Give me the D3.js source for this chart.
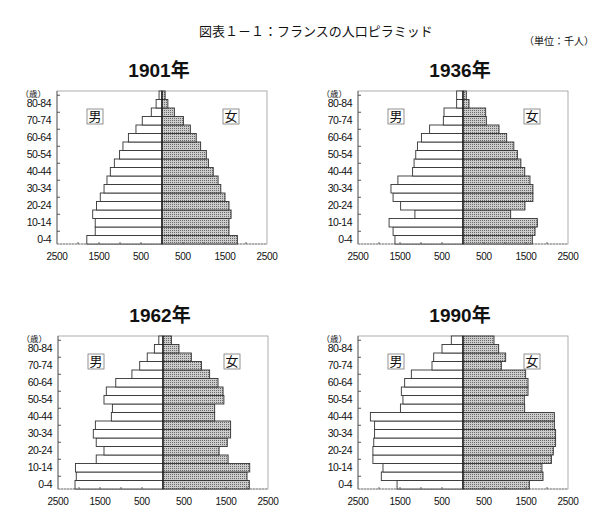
<!DOCTYPE html>
<html><head><meta charset="utf-8">
<script src="https://cdn.jsdelivr.net/npm/d3@7"></script>
<style>
html,body{margin:0;padding:0;background:#fff;}
svg{display:block;}
</style></head>
<body>
<svg id="c" width="600" height="517"></svg>
<script>
// ---- data (thousands of people) ----
const ageGroups = ["0-4","5-9","10-14","15-19","20-24","25-29","30-34","35-39","40-44","45-49","50-54","55-59","60-64","65-69","70-74","75-79","80-84","85+"];
const ageLabels = ["0-4","10-14","20-24","30-34","40-44","50-54","60-64","70-74","80-84"];
const years = [1901, 1936, 1962, 1990];
const male1901   = [1790,1590,1590,1650,1560,1470,1380,1310,1230,1135,1010,930,800,620,470,255,140,70];
const female1901 = [1795,1595,1595,1645,1595,1500,1400,1335,1220,1105,1055,920,815,675,510,295,140,75];
const male1936   = [1620,1665,1760,1145,1485,1665,1715,1550,1200,1165,1125,1085,990,795,468,452,151,151];
const female1936 = [1650,1715,1770,1135,1475,1665,1665,1595,1470,1378,1295,1210,1040,857,556,540,143,79];
const male1962   = [2095,2065,2085,1590,1405,1590,1660,1610,1230,1205,1405,1350,1125,740,555,375,205,100];
const female1962 = [2055,2000,2065,1550,1335,1530,1610,1610,1230,1230,1450,1430,1310,1110,915,675,380,200];
const male1990   = [1570,1945,1905,2145,2145,2125,2105,2105,2205,1490,1430,1468,1389,1230,738,698,500,278];
const female1990 = [1580,1905,1880,2105,2150,2205,2205,2175,2175,1468,1460,1548,1548,1492,913,1016,849,738];
const xTickLabels = [-2500,-1500,-500,500,1500,2500];
const xMinorTicks = [-2000,-1500,-1000,-500,500,1000,1500,2000];
const mainTitle = "図表１－１：フランスの人口ピラミッド";
const unitLabel = "（単位：千人）";
const ageUnit = "（歳）";
const maleLabel = "男", femaleLabel = "女";

const seriesByYear = {
  1901: [male1901, female1901],
  1936: [male1936, female1936],
  1962: [male1962, female1962],
  1990: [male1990, female1990]
};

// ---- layout ----
const panels = [
  {year:1901, left:57,  top:91},
  {year:1936, left:358, top:91},
  {year:1962, left:58,  top:336},
  {year:1990, left:358, top:336}
];
const PW = 210, PH = 153;
const numFont = "'Liberation Sans', Arial, sans-serif";
const jpFont = "'Noto Sans CJK JP', sans-serif";

const svg = d3.select("#c");
const defs = svg.append("defs");
const pat = defs.append("pattern").attr("id","dots").attr("patternUnits","userSpaceOnUse")
  .attr("width",2).attr("height",2);
pat.append("rect").attr("width",2).attr("height",2).attr("fill","#cccccc");
pat.append("rect").attr("width",1).attr("height",1).attr("fill","#6a6a6a");

svg.append("text").attr("x",199).attr("y",36).attr("font-family",jpFont)
  .attr("font-size",13).attr("fill","#111").text(mainTitle);
svg.append("text").attr("x",594).attr("y",45).attr("text-anchor","end").attr("font-family",jpFont)
  .attr("font-size",10).attr("fill","#111").text(unitLabel);

panels.forEach(p => {
  const [male, female] = seriesByYear[p.year];
  const g = svg.append("g");
  const x = d3.scaleLinear().domain([-2500,2500]).range([p.left, p.left+PW]);
  const y = d3.scaleBand().domain(ageGroups.slice().reverse()).range([p.top, p.top+PH]).padding(0);
  const bottom = p.top + PH;

  // title
  g.append("text").attr("x", x(0)-3).attr("y", p.top-14).attr("text-anchor","middle")
    .attr("font-family", "'Liberation Sans', 'Noto Sans CJK JP', sans-serif")
    .attr("font-weight","bold").attr("font-size",19).attr("fill","#111").text(p.year + "年");

  // frame
  g.append("rect").attr("x",p.left).attr("y",p.top).attr("width",PW).attr("height",PH)
    .attr("fill","none").attr("stroke","#999").attr("stroke-width",0.8);
  g.append("line").attr("x1",p.left).attr("x2",p.left).attr("y1",p.top).attr("y2",bottom)
    .attr("stroke","#666").attr("stroke-width",0.9);
  g.append("line").attr("x1",p.left).attr("x2",p.left+PW).attr("y1",bottom).attr("y2",bottom)
    .attr("stroke","#888").attr("stroke-width",0.9).attr("stroke-dasharray","2,1");

  // bars
  g.selectAll("rect.m").data(ageGroups).join("rect").attr("class","m")
    .attr("x", (d,i) => x(-male[i])).attr("y", d => y(d))
    .attr("width", (d,i) => x(0) - x(-male[i])).attr("height", y.bandwidth())
    .attr("fill","#fff").attr("stroke","#333").attr("stroke-width",0.9);
  g.selectAll("rect.f").data(ageGroups).join("rect").attr("class","f")
    .attr("x", x(0)).attr("y", d => y(d))
    .attr("width", (d,i) => x(female[i]) - x(0)).attr("height", y.bandwidth())
    .attr("fill","url(#dots)").attr("stroke","#333").attr("stroke-width",0.9);

  // center line
  g.append("line").attr("x1",x(0)).attr("x2",x(0)).attr("y1",p.top).attr("y2",bottom)
    .attr("stroke","#111").attr("stroke-width",1.1);

  // y ticks
  g.selectAll("line.yt").data(ageGroups.filter((d,i)=>i%2===1)).join("line").attr("class","yt")
    .attr("x1",p.left).attr("x2",p.left+3)
    .attr("y1", d => y(d)+y.bandwidth()/2).attr("y2", d => y(d)+y.bandwidth()/2)
    .attr("stroke","#444").attr("stroke-width",0.9);
  // y labels
  g.selectAll("text.yl").data(ageLabels).join("text").attr("class","yl")
    .attr("x", p.left-6).attr("y", d => y(d)+y.bandwidth()/2+3.7)
    .attr("text-anchor","end").attr("font-family",numFont).attr("font-size",10.5)
    .attr("letter-spacing",-0.5).attr("fill","#111").text(d => d);
  g.append("text").attr("x", p.left-11).attr("y", y("85+")+y.bandwidth()/2+1.5)
    .attr("text-anchor","end").attr("font-family",jpFont).attr("font-size",8.5)
    .attr("fill","#111").text(ageUnit);

  // x ticks + labels
  g.selectAll("line.xt").data(xMinorTicks).join("line").attr("class","xt")
    .attr("x1", d => x(d)).attr("x2", d => x(d)).attr("y1",bottom).attr("y2",bottom-2)
    .attr("stroke","#555").attr("stroke-width",0.9);
  g.selectAll("text.xl").data(xTickLabels).join("text").attr("class","xl")
    .attr("x", d => x(d)).attr("y", bottom+16).attr("text-anchor","middle")
    .attr("font-family",numFont).attr("font-size",10).attr("letter-spacing",-0.3)
    .attr("fill","#111").text(d => Math.abs(d));

  // sex labels
  [[maleLabel, p.left+30],[femaleLabel, p.left+PW-44]].forEach(([t,bx]) => {
    g.append("rect").attr("x",bx).attr("y",p.top+18).attr("width",16).attr("height",15)
      .attr("fill","#fff").attr("stroke","#777").attr("stroke-width",0.8);
    g.append("text").attr("x",bx+8).attr("y",p.top+30).attr("text-anchor","middle")
      .attr("font-family",jpFont).attr("font-size",13).attr("fill","#111").text(t);
  });
});
</script>
</body></html>
